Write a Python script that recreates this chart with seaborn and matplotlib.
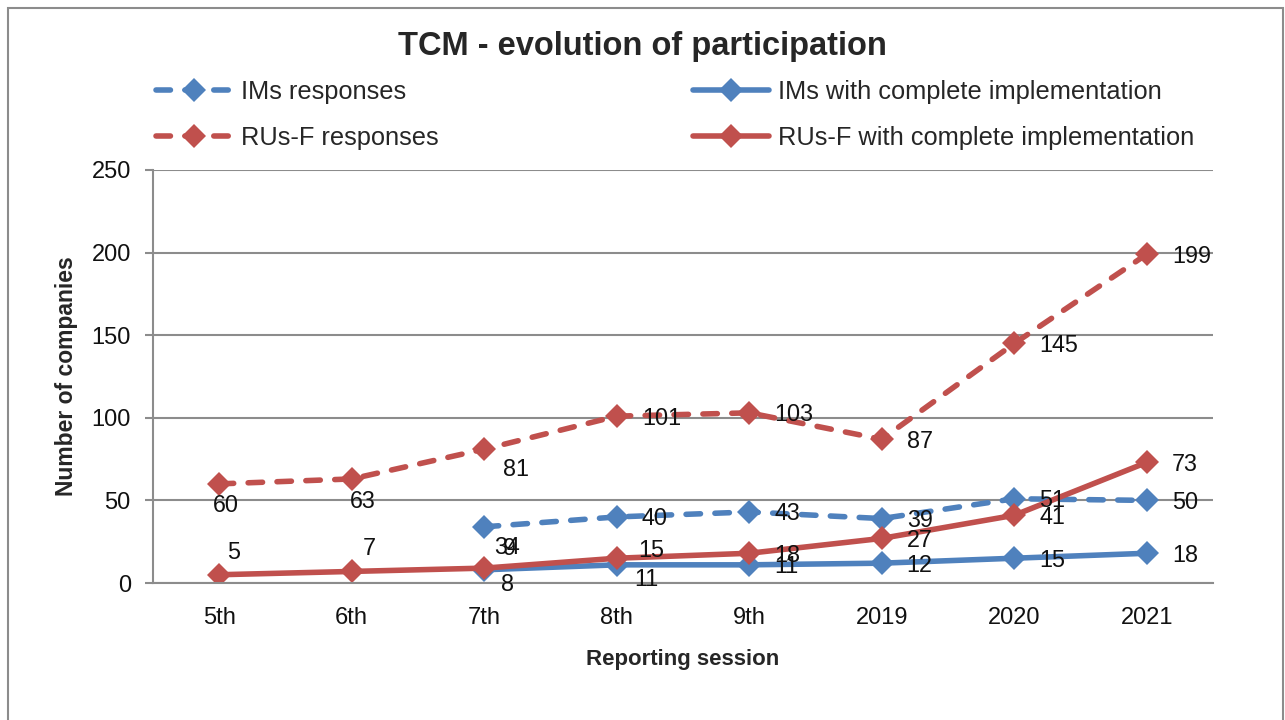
import matplotlib
matplotlib.use('Agg')
import matplotlib.pyplot as plt
import seaborn as sns
import pandas as pd
from matplotlib.patches import Rectangle

sessions = ['5th', '6th', '7th', '8th', '9th', '2019', '2020', '2021']
ims_responses = [None, None, 34, 40, 43, 39, 51, 50]
ims_complete = [None, None, 8, 11, 11, 12, 15, 18]
rus_responses = [60, 63, 81, 101, 103, 87, 145, 199]
rus_complete = [5, 7, 9, 15, 18, 27, 41, 73]

blue = '#4F81BD'
red = '#C0504D'
dash = (0, (2.6, 2.6))

sns.set_theme(style='white')
plt.rcParams['font.family'] = ['Liberation Sans', 'DejaVu Sans']

series = [
    ('IMs responses', ims_responses, blue, dash),
    ('IMs with complete implementation', ims_complete, blue, '-'),
    ('RUs-F responses', rus_responses, red, dash),
    ('RUs-F with complete implementation', rus_complete, red, '-'),
]

# data label offsets in pixels (dx to left edge, dy) from each point; default sits right of the marker
R = (25, -2)
offsets = {
    'IMs responses': [None, None, (10, -21), R, R, R, R, R],
    'IMs with complete implementation': [None, None, (17, -15), (18, -15), R, R, R, R],
    'RUs-F responses': [(-6, -22), (-2, -23), (19, -20), R, R, R, R, R],
    'RUs-F with complete implementation': [(8, 22), (11, 23), (19, 20), (21, 8), R, R, R, R],
}

fig = plt.figure(figsize=(12.85, 7.2), dpi=100)
ax = fig.add_axes([153 / 1285, 1 - 583 / 720, 1060 / 1285, 413 / 720])

x_idx = list(range(len(sessions)))
handles = {}
for name, vals, color, ls in series:
    df = pd.DataFrame({'x': x_idx, 'y': vals}).dropna()
    sns.lineplot(data=df, x='x', y='y', ax=ax, color=color, linestyle=ls,
                 linewidth=4, marker='D', markersize=12, markeredgewidth=0,
                 sort=False, legend=False, dash_capstyle='round')
    handles[name] = ax.lines[-1]
    for i, v in zip(df['x'], df['y']):
        dx, dy = offsets[name][int(i)]
        ax.annotate(f'{int(v)}', (i, v), xytext=(dx, dy), textcoords='offset pixels',
                    ha='left', va='center', fontsize=16.8, color='#111111')

ax.set_xlim(-0.5, len(sessions) - 0.5)
ax.set_ylim(0, 250)
ax.set_yticks(range(0, 251, 50))
ax.set_xticks(x_idx)
ax.set_xticklabels(sessions)
ax.tick_params(axis='x', labelsize=17, colors='#111111', length=0, pad=17)
ax.tick_params(axis='y', labelsize=17, labelcolor='#111111', color='#8c8c8c',
               direction='out', left=True, length=6, width=1.5, pad=10)
ax.yaxis.grid(True, color='#8c8c8c', linewidth=1.5)
ax.xaxis.grid(False)
for s in ['top', 'right']:
    ax.spines[s].set_visible(False)
for s in ['left', 'bottom']:
    ax.spines[s].set_color('#8c8c8c')
    ax.spines[s].set_linewidth(1.5)
ax.set_xlabel('Reporting session', fontsize=16, fontweight='bold', labelpad=15)
ax.set_ylabel('Number of companies', fontsize=16.5, fontweight='bold', labelpad=10)

fig.text(0.5, 0.936, 'TCM - evolution of participation', ha='center', va='center',
         fontsize=23.5, fontweight='bold')

# legend: two columns, responses on the left, complete implementation on the right
leg_kw = dict(frameon=False, fontsize=18.3, handlelength=3.0, handletextpad=0.35,
              labelspacing=0.85, borderaxespad=0, borderpad=0)
fig.legend([handles['IMs responses'], handles['RUs-F responses']],
           ['IMs responses', 'RUs-F responses'],
           loc='upper left', bbox_to_anchor=(156 / 1285, 1 - 80 / 720), **leg_kw)
fig.legend([handles['IMs with complete implementation'], handles['RUs-F with complete implementation']],
           ['IMs with complete implementation', 'RUs-F with complete implementation'],
           loc='upper left', bbox_to_anchor=(693 / 1285, 1 - 80 / 720), **leg_kw)

fig.patches.append(Rectangle((7.5 / 1285, -0.1), 1275 / 1285, 1.1 - 8 / 720,
                             transform=fig.transFigure, fill=False,
                             edgecolor='#8c8c8c', linewidth=1.5))

fig.savefig('out.png', dpi=100)
